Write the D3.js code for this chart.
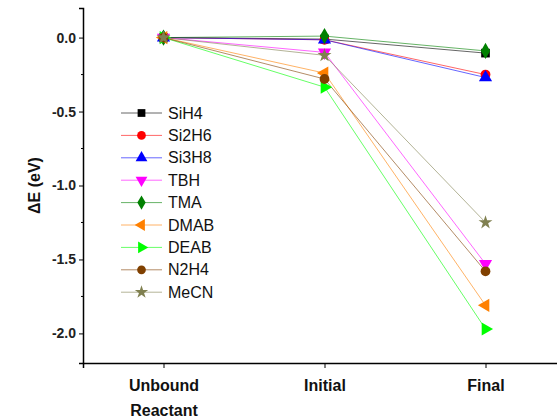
<!DOCTYPE html>
<html>
<head>
<meta charset="utf-8">
<script src="https://cdn.jsdelivr.net/npm/d3@7"></script>
<style>
body { margin: 0; background: #fff; }
text { font-family: Arial, "Liberation Sans", sans-serif; }
</style>
</head>
<body>
<script>
// stages along the x axis
var stages = ['Unbound|Reactant', 'Initial', 'Final'];
var names = ['SiH4', 'Si2H6', 'Si3H8', 'TBH', 'TMA', 'DMAB', 'DEAB', 'N2H4', 'MeCN'];
var colors = ['#000000', '#ff0000', '#0000ff', '#ff00ff', '#008000', '#ff8000', '#00ff00', '#804000', '#808050'];
var shapes = ['square', 'circle', 'up', 'down', 'diamond', 'left', 'right', 'circle', 'star'];
// energies (eV) per stage: unbound, initial, final
var SiH4 = [0, -0.01, -0.105];
var Si2H6 = [0, -0.015, -0.25];
var Si3H8 = [0, -0.015, -0.27];
var TBH = [0, -0.10, -1.53];
var TMA = [0, 0.01, -0.09];
var DMAB = [0, -0.24, -1.81];
var DEAB = [0, -0.335, -1.97];
var N2H4 = [0, -0.28, -1.58];
var MeCN = [0, -0.12, -1.25];
var yTicks = [0, -0.5, -1.0, -1.5, -2.0];

var series = [SiH4, Si2H6, Si3H8, TBH, TMA, DMAB, DEAB, N2H4, MeCN].map(function (v, i) {
    return { name: names[i], color: colors[i], shape: shapes[i], values: v };
});

var W = 557, H = 419;
var svg = d3.select('body').append('svg')
    .attr('width', W)
    .attr('height', H);

var x = d3.scaleLinear().domain([-0.5, 2.5]).range([83, 566]);
var y = d3.scaleLinear().domain([-2.2, 0.2]).range([363, 8]);

function symbolPath(shape, size) {
    var type = d3.symbolTriangle, rot = 0;
    if (shape == 'square') type = d3.symbolSquare;
    else if (shape == 'circle') type = d3.symbolCircle;
    else if (shape == 'diamond') type = d3.symbolDiamond;
    else if (shape == 'star') type = d3.symbolStar;
    else if (shape == 'down') rot = 180;
    else if (shape == 'left') rot = -90;
    else if (shape == 'right') rot = 90;
    return { d: d3.symbol().type(type).size(size)(), rot: rot };
}

// axes
var yAxis = svg.append('g')
    .attr('transform', 'translate(' + x(-0.5) + ',0)')
    .call(d3.axisLeft(y).tickValues(yTicks).tickSize(4).tickPadding(3)
        .tickFormat(function (d) { return d.toFixed(1); }));
yAxis.select('.domain').attr('stroke-width', 1.5);
yAxis.selectAll('text').attr('font-size', 14).attr('font-weight', 'bold').attr('fill', '#222');
var minor = [-0.25, -0.75, -1.25, -1.75];
yAxis.selectAll('.minor').data(minor).enter().append('line')
    .attr('class', 'minor')
    .attr('x1', -2).attr('x2', 0)
    .attr('y1', function (d) { return y(d); })
    .attr('y2', function (d) { return y(d); })
    .attr('stroke', '#000');

var xAxis = svg.append('g')
    .attr('transform', 'translate(0,' + y(-2.2) + ')')
    .call(d3.axisBottom(x).tickValues([0, 1, 2]).tickSize(5).tickFormat(''));
xAxis.select('.domain').attr('stroke-width', 1.5);
xAxis.selectAll('.tick').each(function (d) {
    var lines = stages[d].split('|');
    var t = d3.select(this).append('text')
        .attr('fill', '#111')
        .attr('font-size', 16)
        .attr('font-weight', 'bold')
        .attr('text-anchor', 'middle');
    lines.forEach(function (l, i) {
        t.append('tspan').attr('x', 0).attr('y', 28 + i * 25).text(l);
    });
});

svg.append('text')
    .attr('transform', 'translate(40,' + y(-1.0) + ') rotate(-90)')
    .attr('text-anchor', 'middle')
    .attr('font-size', 16)
    .attr('font-weight', 'bold')
    .attr('fill', '#111')
    .text('\u0394E (eV)');

// lines and markers
var line = d3.line()
    .x(function (d, i) { return x(i); })
    .y(function (d) { return y(d); });

var plot = svg.append('g');
series.forEach(function (s) {
    plot.append('path')
        .attr('d', line(s.values))
        .attr('fill', 'none')
        .attr('stroke', s.color)
        .attr('stroke-opacity', 0.6)
        .attr('stroke-width', 1);
});
series.forEach(function (s) {
    var sym = symbolPath(s.shape, s.shape == 'star' ? 60 : 75);
    plot.selectAll(null).data(s.values).enter().append('path')
        .attr('d', sym.d)
        .attr('transform', function (d, i) {
            return 'translate(' + x(i) + ',' + y(d) + ') rotate(' + sym.rot + ')';
        })
        .attr('fill', s.color);
});

// legend
var legend = svg.append('g').attr('transform', 'translate(121,113)');
var rows = legend.selectAll('g').data(series).enter().append('g')
    .attr('transform', function (d, i) { return 'translate(0,' + (i * 22.4) + ')'; });
rows.append('line')
    .attr('x1', 0).attr('x2', 41)
    .attr('stroke', function (d) { return d.color; })
    .attr('stroke-opacity', 0.6);
rows.append('path')
    .attr('d', function (d) { return symbolPath(d.shape, d.shape == 'star' ? 55 : 60).d; })
    .attr('transform', function (d) { return 'translate(20.5,0) rotate(' + symbolPath(d.shape, 1).rot + ')'; })
    .attr('fill', function (d) { return d.color; });
rows.append('text')
    .attr('x', 47)
    .attr('dy', '0.35em')
    .attr('font-size', 16)
    .attr('fill', '#111')
    .text(function (d) { return d.name; });
</script>
</body>
</html>
